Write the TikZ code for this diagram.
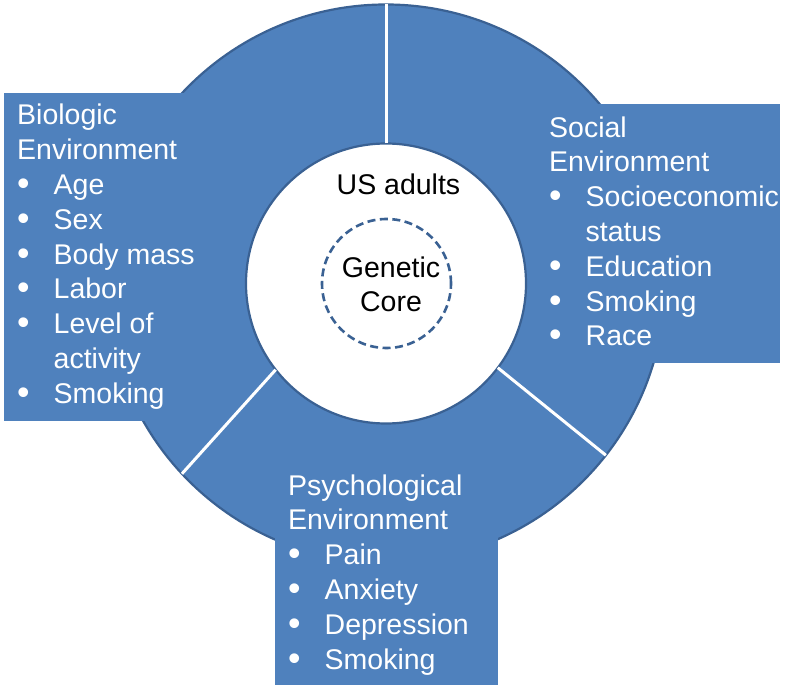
\documentclass[tikz,border=0pt]{standalone}
\usepackage{fontspec}
\setmainfont{Liberation Sans}
\usetikzlibrary{positioning}
\definecolor{ring}{HTML}{4F81BD}
\definecolor{rim}{HTML}{3A6193}
\tikzset{
  every node/.style={font=\fontsize{28.5}{34.8}\selectfont,inner sep=0pt},
  panel/.style={fill=ring},
  rimline/.style={draw=rim,line width=2.2pt},
  gap/.style={draw=white,line width=3pt},
  list/.style={text=white,align=left,anchor=base west},
  core/.style={draw=rim,line width=2.6pt,dash pattern=on 8pt off 4.5pt},
}
\newcommand{\itm}{\makebox[36.5pt][l]{\raisebox{-1pt}{\scalebox{1.25}{\textbullet}}}}
\newcommand{\cnt}{\hspace*{36.5pt}}

\begin{document}
\begin{tikzpicture}[x=1pt,y=1pt]
\path[use as bounding box] (0,0) rectangle (793,689);
\fill[white] (0,0) rectangle (793,689);
\coordinate (c) at (386,405.5);
% blue ring with its darker rim
\fill[ring,even odd rule] (c) circle[radius=279] (c) circle[radius=140];
\draw[rimline] (c) circle[radius=279] (c) circle[radius=140];
% side panels sit over the rim where they meet the ring
\fill[panel] (4,268) rectangle (220,596);
\fill[panel] (540,326) rectangle (780,585);
\fill[panel] (275,4) rectangle (498,244);
% white gaps between the three segments
\draw[gap] ([shift={(90:140)}]c) -- ([shift={(90:279)}]c);
\draw[gap] ([shift={(218:140)}]c) -- ([shift={(223:279)}]c);
\draw[gap] ([shift={(323:140)}]c) -- ([shift={(322:279)}]c);
% lists: base anchor is the last line
\node[list] (bio) at (17,285.6) {Biologic\\Environment\\\itm Age\\\itm Sex\\\itm Body mass\\\itm Labor\\\itm Level of\\\cnt activity\\\itm Smoking};
\node[list] (soc) at (549,343) {Social\\Environment\\\itm Socioeconomic\\\cnt status\\\itm Education\\\itm Smoking\\\itm Race};
\node[list] (psy) at (288,20) {Psychological\\Environment\\\itm Pain\\\itm Anxiety\\\itm Depression\\\itm Smoking};
% centre
\node[anchor=base] (adults) at (398.5,494) {US adults};
\draw[core] (386.5,405.5) circle[radius=64.5];
\node[align=center,anchor=base] (genetic) at (391,377) {Genetic\\Core};
\end{tikzpicture}
\end{document}
